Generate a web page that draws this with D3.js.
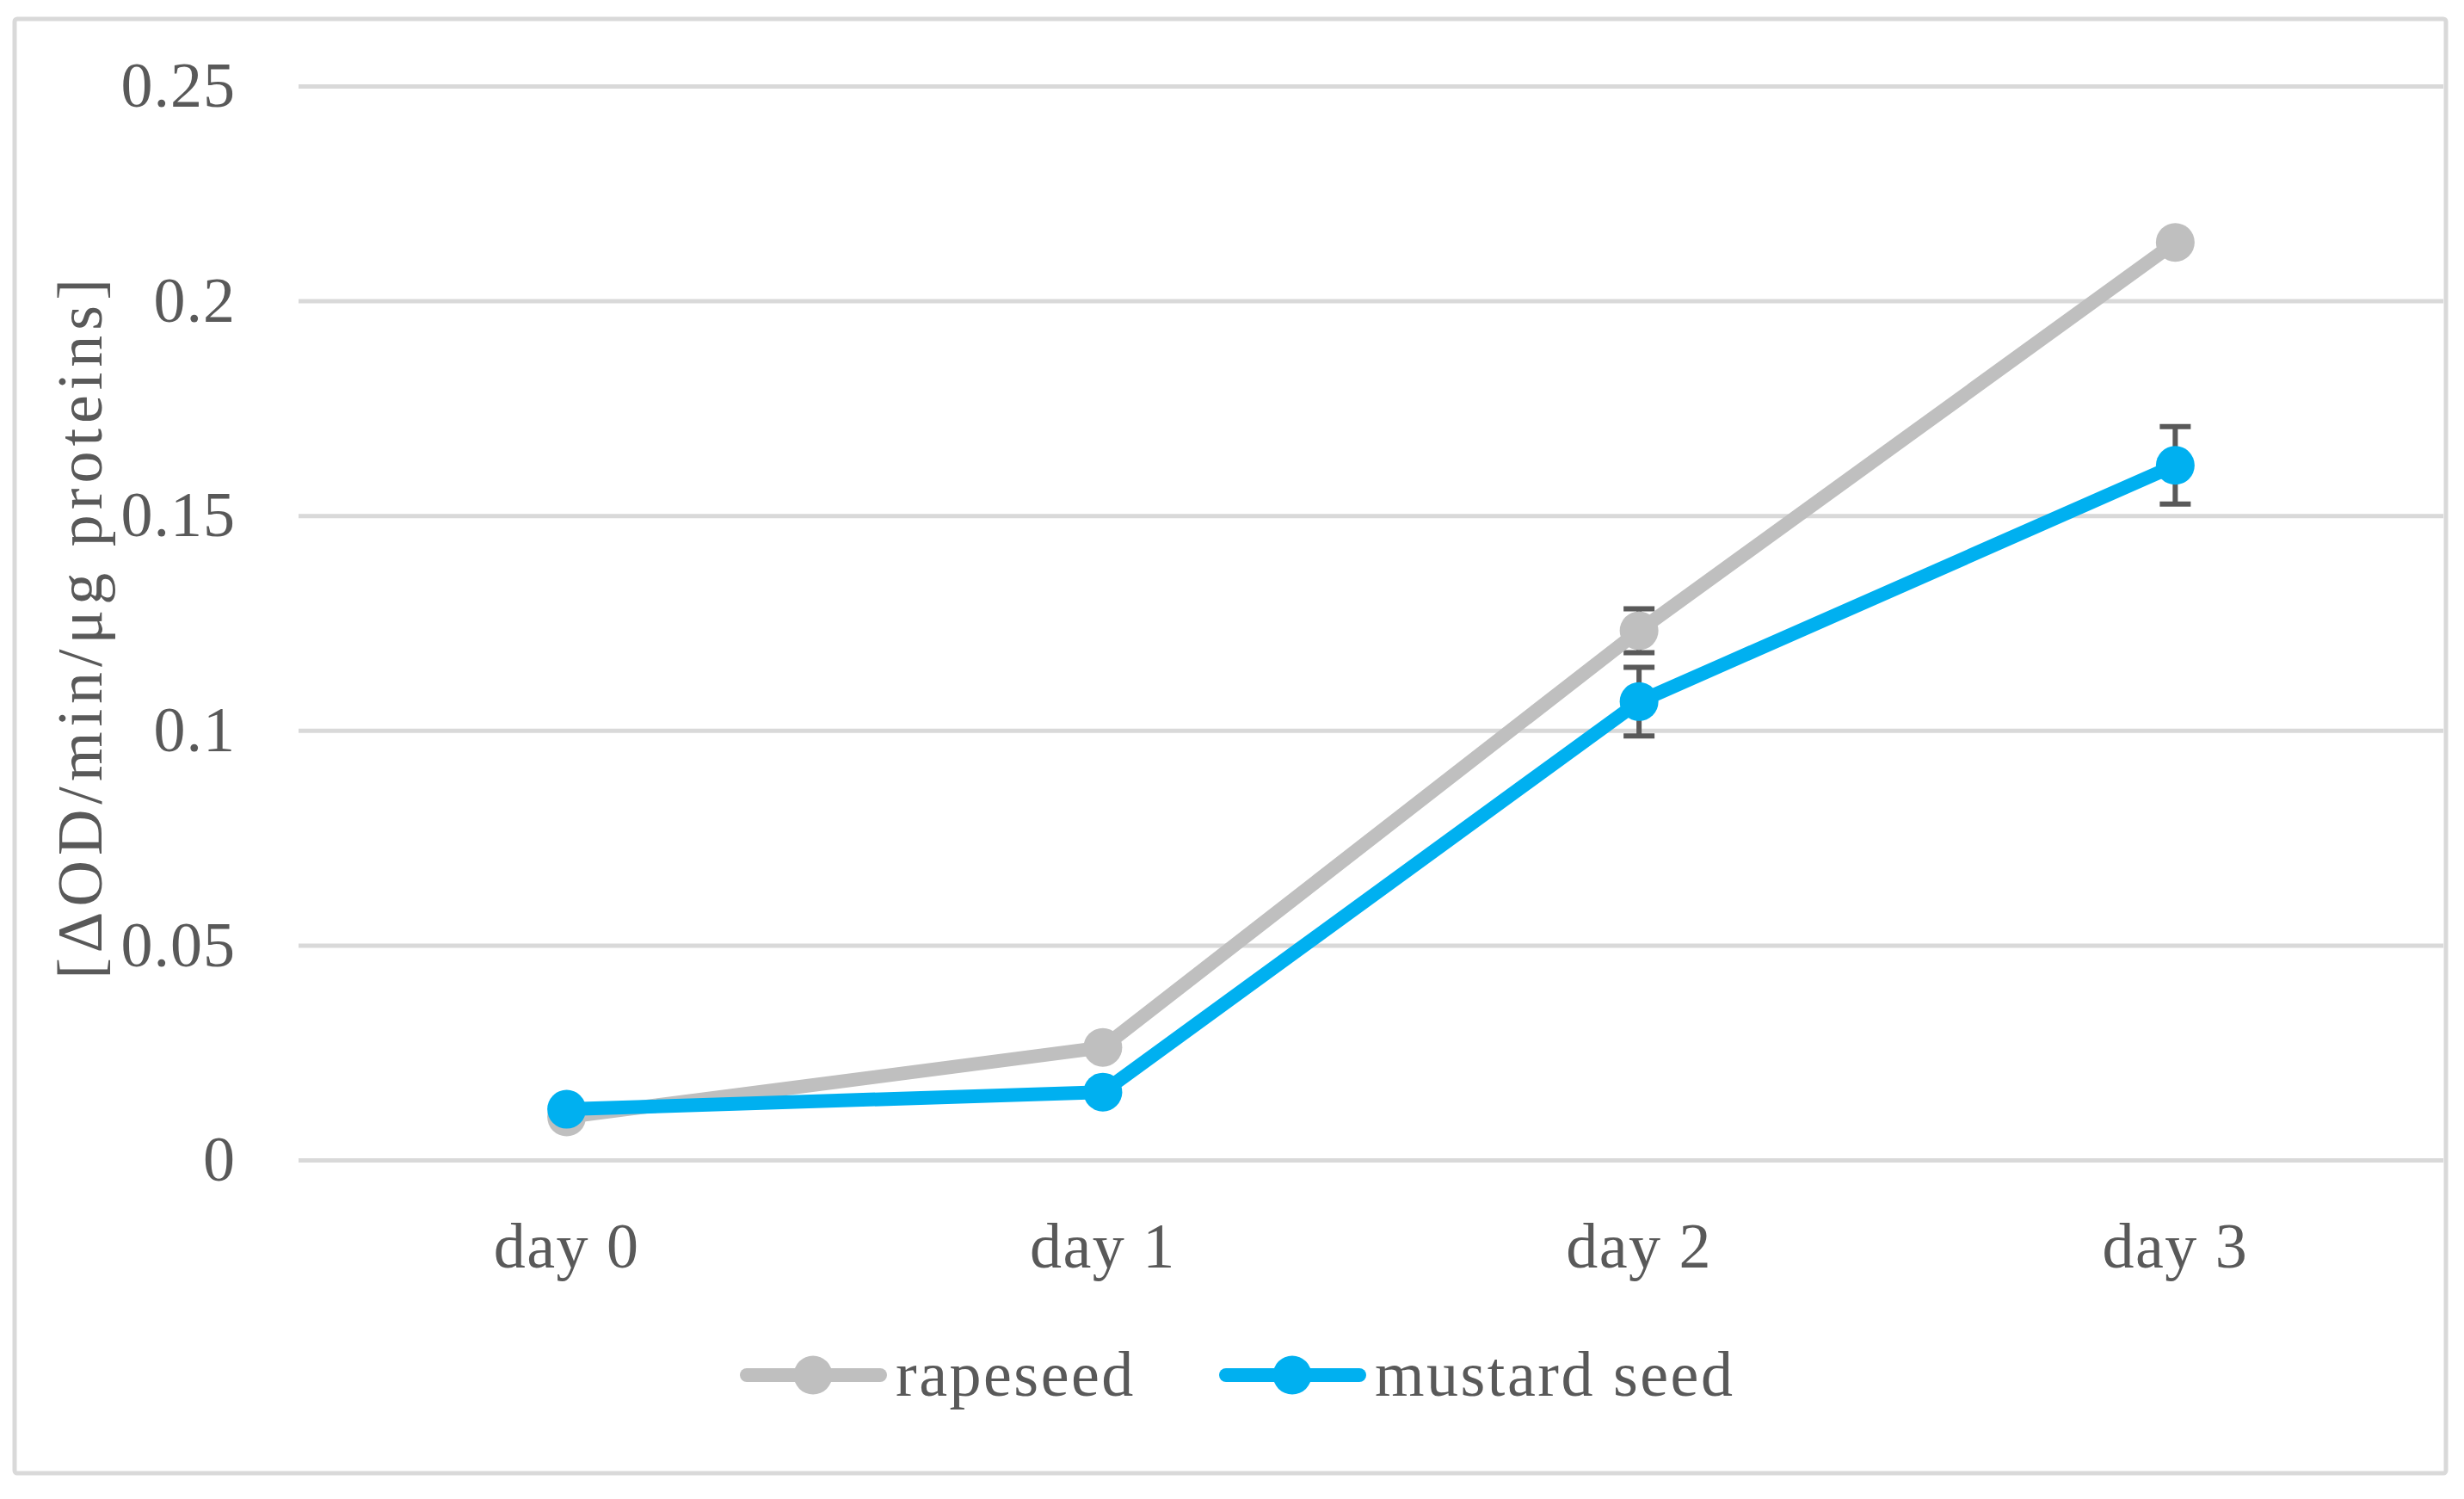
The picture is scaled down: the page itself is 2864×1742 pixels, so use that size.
<!DOCTYPE html>
<html><head><meta charset="utf-8">
<script src="https://cdn.jsdelivr.net/npm/d3@7"></script>
<style>body{margin:0;background:#fff}svg{display:block}</style>
</head><body>
<script>
const categories = ["day 0", "day 1", "day 2", "day 3"];
const seriesNames = ["rapeseed", "mustard seed"];
const rapeseed = [0.0100, 0.0262, 0.1232, 0.2136];
const mustard = [0.0118, 0.0158, 0.1067, 0.1617];
const rapeseedErr = [0, 0, 0.0051, 0];
const mustardErr = [0, 0, 0.0080, 0.0090];
const yTicks = [0, 0.05, 0.1, 0.15, 0.2, 0.25];
const yTickLabels = ["0", "0.05", "0.1", "0.15", "0.2", "0.25"];
const yTitle = "[ΔOD/min/μg proteins]";

const W = 2864, H = 1742;
const FONT = "'Liberation Serif', 'Times New Roman', serif";
const TXT = "#595959";
const colors = ["#BFBFBF", "#00B0F0"];
const svg = d3.select("body").append("svg").attr("width", W).attr("height", H);
svg.append("rect").attr("width", W).attr("height", H).attr("fill", "#fff");
svg.append("rect").attr("x", 17).attr("y", 22).attr("width", 2826).attr("height", 1690)
  .attr("rx", 3).attr("fill", "none").attr("stroke", "#D9D9D9").attr("stroke-width", 5);

const x = d3.scaleBand().domain(categories).range([347, 2840]);
const cx = c => x(c) + x.bandwidth() / 2;
const y = d3.scaleLinear().domain([0, 0.25]).range([1348, 100]);

// gridlines + y tick labels
const yAxis = d3.axisLeft(y).tickValues(yTicks).tickSize(-(2840 - 347))
  .tickFormat((d, i) => yTickLabels[i]).tickPadding(73);
const gy = svg.append("g").attr("transform", "translate(347,0)").call(yAxis);
gy.select(".domain").remove();
gy.selectAll(".tick line").attr("stroke", "#D9D9D9").attr("stroke-width", 5);
gy.selectAll(".tick text").attr("fill", TXT).style("font-family", FONT).style("font-size", "74px")
  .style("letter-spacing", "1px");

// x axis labels
const xAxis = d3.axisBottom(x).tickSize(0).tickPadding(72);
const gx = svg.append("g").attr("transform", "translate(0,1348)").call(xAxis);
gx.select(".domain").remove();
gx.selectAll(".tick text").attr("fill", TXT).style("font-family", FONT).style("font-size", "74px")
  .style("letter-spacing", "1.5px");

// y title
svg.append("text").attr("transform", "translate(118,728) rotate(-90)")
  .attr("text-anchor", "middle").attr("fill", TXT)
  .style("font-family", FONT).style("font-size", "74px").style("letter-spacing", "6px").text(yTitle);

const series = [
  {name: seriesNames[0], vals: rapeseed, err: rapeseedErr, color: colors[0]},
  {name: seriesNames[1], vals: mustard, err: mustardErr, color: colors[1]}
];

// error bars
series.forEach(s => {
  const g = svg.append("g").attr("stroke", "#595959").attr("stroke-width", 6);
  categories.forEach((c, i) => {
    if (!s.err[i]) return;
    const lo = y(s.vals[i] - s.err[i]), hi = y(s.vals[i] + s.err[i]);
    g.append("line").attr("x1", cx(c)).attr("x2", cx(c)).attr("y1", lo).attr("y2", hi);
    g.append("line").attr("x1", cx(c) - 18).attr("x2", cx(c) + 18).attr("y1", lo).attr("y2", lo);
    g.append("line").attr("x1", cx(c) - 18).attr("x2", cx(c) + 18).attr("y1", hi).attr("y2", hi);
  });
});

const line = d3.line().x((d, i) => cx(categories[i])).y(d => y(d));
series.forEach(s => {
  svg.append("path").datum(s.vals).attr("d", line).attr("fill", "none")
    .attr("stroke", s.color).attr("stroke-width", 16).attr("stroke-linejoin", "round");
  svg.append("g").selectAll("circle").data(s.vals).join("circle")
    .attr("cx", (d, i) => cx(categories[i])).attr("cy", d => y(d)).attr("r", 22.5).attr("fill", s.color);
});

// legend
const legendItems = [
  {x0: 868, tx: 1041},
  {x0: 1425, tx: 1598}
];
series.forEach((s, i) => {
  const L = legendItems[i], ly = 1598;
  svg.append("line").attr("x1", L.x0).attr("x2", L.x0 + 155).attr("y1", ly).attr("y2", ly)
    .attr("stroke", s.color).attr("stroke-width", 16).attr("stroke-linecap", "round");
  svg.append("circle").attr("cx", L.x0 + 77).attr("cy", ly).attr("r", 22.5).attr("fill", s.color);
  svg.append("text").attr("x", L.tx).attr("y", ly).attr("dy", "0.32em").attr("fill", TXT)
    .style("font-family", FONT).style("font-size", "74px").style("letter-spacing", "2.5px").text(s.name);
});
</script>
</body></html>
